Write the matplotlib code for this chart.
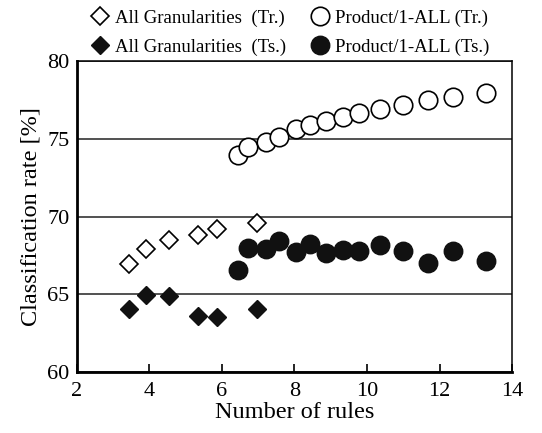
import numpy as np
import matplotlib
matplotlib.use("Agg")
import matplotlib.pyplot as plt

plt.rcParams['font.family'] = ['Liberation Serif', 'DejaVu Serif']

# All Granularities
ag_rules = [3.45, 3.90, 4.55, 5.34, 5.86, 6.97]
ag_train = [66.93, 67.90, 68.48, 68.84, 69.19, 69.57]
ag_test = [64.03, 64.97, 64.89, 63.60, 63.52, 64.03]

# Product/1-ALL
p_rules = [6.45, 6.71, 7.21, 7.58, 8.03, 8.44, 8.86, 9.33, 9.79, 10.36, 10.98, 11.69, 12.37, 13.28]
p_train = [73.98, 74.51, 74.83, 75.12, 75.63, 75.91, 76.19, 76.44, 76.70, 76.92, 77.22, 77.52, 77.71, 77.99]
p_test = [66.57, 67.96, 67.90, 68.45, 67.70, 68.24, 67.68, 67.87, 67.81, 68.16, 67.77, 67.04, 67.79, 67.12]

fig = plt.figure(figsize=(5.42, 4.33), dpi=100)
ax = fig.add_axes([0.1415, 0.141, 0.8035, 0.717])

ax.grid(True, axis='y', color='#222222', linewidth=1.1, zorder=0)

ax.plot(ag_rules, ag_train, linestyle='none', marker='D', markersize=9.4,
        markerfacecolor='white', markeredgecolor='black', markeredgewidth=1.2,
        label='All Granularities  (Tr.)', zorder=3)
ax.plot(ag_rules, ag_test, linestyle='none', marker='D', markersize=9.4,
        markerfacecolor='#111111', markeredgecolor='#111111', markeredgewidth=1.0,
        label='All Granularities  (Ts.)', zorder=3)
ax.plot(p_rules, p_train, linestyle='none', marker='o', markersize=13.3,
        markerfacecolor='white', markeredgecolor='black', markeredgewidth=1.2,
        label='Product/1-ALL (Tr.)', zorder=3)
ax.plot(p_rules, p_test, linestyle='none', marker='o', markersize=13.3,
        markerfacecolor='#111111', markeredgecolor='#111111', markeredgewidth=1.0,
        label='Product/1-ALL (Ts.)', zorder=3)

ax.set_xlim(2, 14)
ax.set_ylim(60, 80)
ax.set_xticks(np.arange(2, 15, 2))
ax.set_yticks(np.arange(60, 81, 5))
ax.tick_params(axis='x', direction='in', length=6, width=1.2, labelsize=16, pad=7)
ax.tick_params(axis='y', length=0, labelsize=16, pad=5)

for side in ['left', 'bottom']:
    ax.spines[side].set_linewidth(2.0)
for side in ['top', 'right']:
    ax.spines[side].set_linewidth(1.1)

ax.set_xlabel('Number of rules', fontsize=17.5, labelpad=1)
ax.set_ylabel('Classification rate [%]', fontsize=17.5, labelpad=4)

fig.legend(loc='upper center', bbox_to_anchor=(0.535, 0.995), ncol=2, frameon=False,
           fontsize=13.5, handletextpad=0.3, columnspacing=1.35, labelspacing=0.6,
           handlelength=1.0, borderaxespad=0.0)

fig.savefig('out.png', dpi=100)
